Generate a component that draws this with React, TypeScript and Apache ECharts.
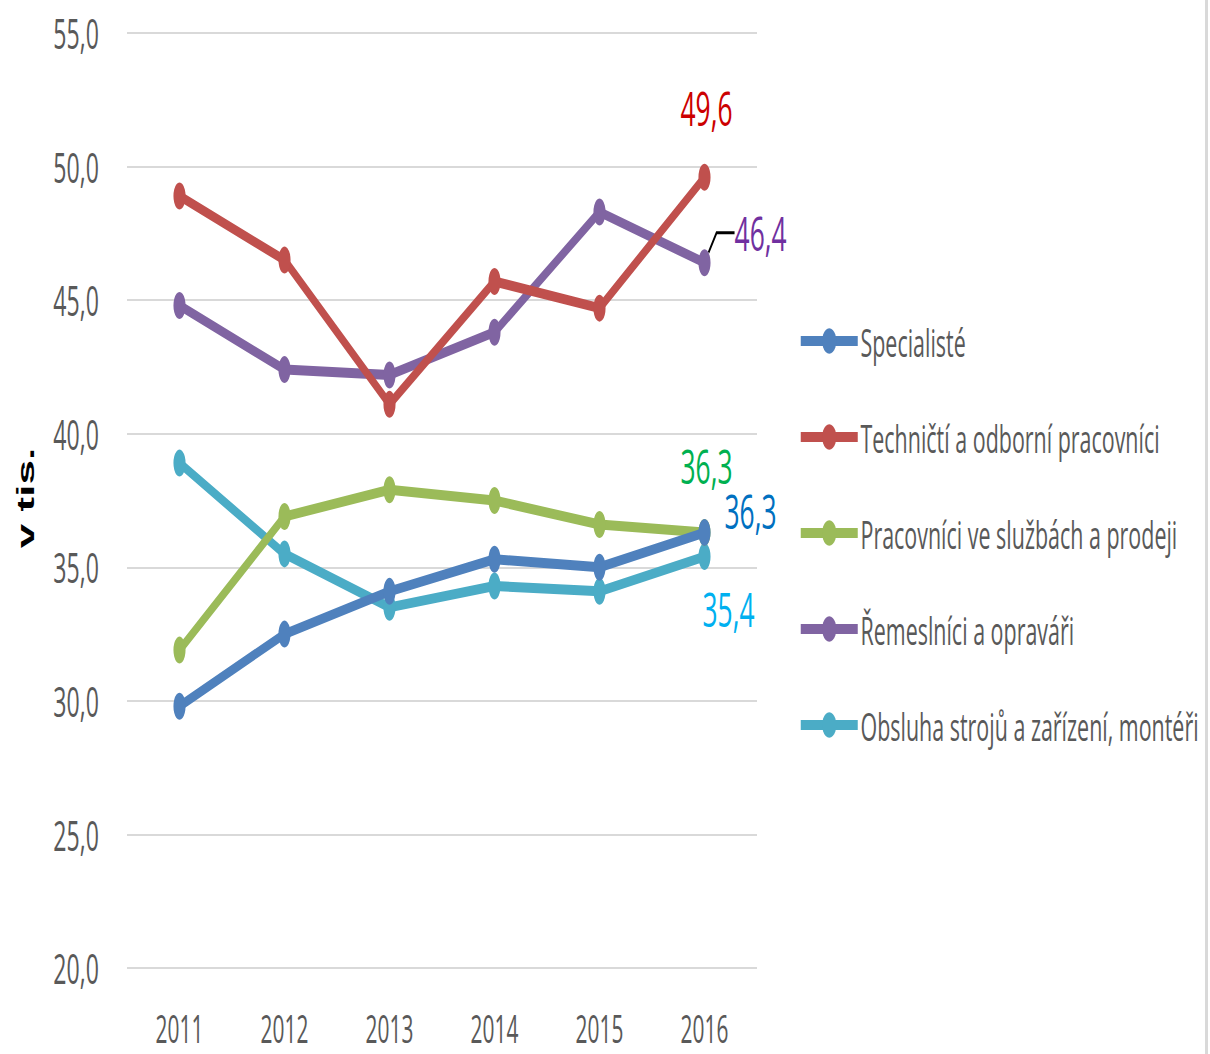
import React, { useEffect, useRef } from "react";
import * as echarts from "echarts";

const years = ["2011", "2012", "2013", "2014", "2015", "2016"];
const specialiste = [29.8, 32.5, 34.1, 35.3, 35.0, 36.3];
const technicti = [48.9, 46.5, 41.1, 45.7, 44.7, 49.6];
const sluzby = [31.9, 36.9, 37.9, 37.5, 36.6, 36.3];
const remeslnici = [44.8, 42.4, 42.2, 43.8, 48.3, 46.4];
const obsluha = [38.9, 35.5, 33.5, 34.3, 34.1, 35.4];
const seriesNames = [
  "Specialisté",
  "Techničtí a odborní pracovníci",
  "Pracovníci ve službách a prodeji",
  "Řemeslníci a opraváři",
  "Obsluha strojů a zařízení, montéři",
];
const yTicks = [20, 25, 30, 35, 40, 45, 50, 55];

const S = 0.55; // horizontal compression of the whole picture
const W = 1210 / S;
const H = 1054;
const FONT = "'Open Sans', sans-serif";

const fmt = (v: number) => Number(v).toFixed(1).replace(".", ",");

function lastLabel(values: number[], color: string, offset: [number, number]) {
  return values.map((v, i) =>
    i === values.length - 1
      ? {
          value: v,
          label: {
            show: true,
            position: "inside",
            offset,
            color,
            fontSize: 48,
            fontFamily: FONT,
            formatter: (p: any) => fmt(p.value),
          },
        }
      : v
  );
}

export default function App() {
  const ref = useRef<HTMLDivElement>(null);
  useEffect(() => {
    document.body.style.margin = "0";
    const chart = echarts.init(ref.current!, undefined, { renderer: "svg" });
    const colors = ["#4F81BD", "#C0504D", "#9BBB59", "#8064A2", "#4BACC6"];
    const purpleData = remeslnici.map((v, i) =>
      i === remeslnici.length - 1
        ? {
            value: v,
            label: {
              show: true,
              position: "right",
              distance: 0,
              color: "#7030A0",
              fontSize: 48,
              fontFamily: FONT,
              formatter: (p: any) => fmt(p.value),
            },
          }
        : v
    );
    const datas: any[] = [
      lastLabel(specialiste, "#0070C0", [46 / S, -22]),
      lastLabel(technicti, "#CC0000", [2 / S, -70]),
      lastLabel(sluzby, "#00B050", [2 / S, -67]),
      purpleData,
      lastLabel(obsluha, "#00B0F0", [24 / S, 52]),
    ];
    const series: any[] = seriesNames.map((name, k) => ({
      name,
      type: "line",
      data: datas[k],
      symbol: "circle",
      symbolSize: [22, 27],
      lineStyle: { width: 10, color: colors[k] },
      itemStyle: { color: colors[k] },
      z: 10 - k,
    }));
    series[3].labelLayout = (params: any) =>
      params.dataIndex === remeslnici.length - 1 ? { dx: 24 / S, dy: -30 } : {};
    series[3].labelLine = {
      show: true,
      length2: 18 / S,
      minTurnAngle: 0,
      lineStyle: { color: "#000", width: 3 },
    };

    chart.setOption({
      animation: false,
      color: colors,
      grid: { left: 127 / S, right: W - 757 / S, top: 33, bottom: H - 968, containLabel: false },
      xAxis: {
        type: "category",
        data: years,
        boundaryGap: true,
        axisLine: { show: false },
        axisTick: { show: false },
        axisLabel: { fontSize: 38, color: "#595959", fontFamily: FONT, margin: 38, lineHeight: 44 },
      },
      yAxis: {
        type: "value",
        min: yTicks[0],
        max: yTicks[yTicks.length - 1],
        interval: 5,
        axisLine: { show: false },
        axisTick: { show: false },
        splitLine: { lineStyle: { color: "#D9D9D9", width: 2 } },
        axisLabel: {
          fontSize: 42,
          color: "#595959",
          fontFamily: FONT,
          margin: 51,
          formatter: (v: number) => fmt(v),
        },
      },
      legend: {
        orient: "vertical",
        left: 798 / S,
        top: 316,
        padding: 0,
        itemWidth: 57 / S,
        itemHeight: 32,
        itemGap: 46,
        lineStyle: { width: 10 },
        textStyle: { fontSize: 39, color: "#595959", fontFamily: FONT, lineHeight: 50 },
        data: seriesNames,
      },
      graphic: [
        {
          type: "text",
          x: 26 / S,
          y: 498,
          rotation: Math.PI / 2,
          style: {
            text: "v tis.",
            fontSize: 44,
            fontWeight: "bold",
            fontFamily: "'Liberation Sans', Arial, sans-serif",
            fill: "#000",
            align: "center",
            verticalAlign: "middle",
          },
        },
        {
          type: "rect",
          shape: { x: 1205 / S, y: 0, width: 3 / S, height: H },
          style: { fill: "#D9D9D9" },
        },
      ],
      series,
    });
    return () => chart.dispose();
  }, []);
  return (
    <div style={{ position: "absolute", left: 0, top: 0, width: 1210, height: H, overflow: "hidden", background: "#fff" }}>
      <div
        ref={ref}
        style={{ width: W, height: H, transform: `scaleX(${S})`, transformOrigin: "0 0" }}
      />
    </div>
  );
}
